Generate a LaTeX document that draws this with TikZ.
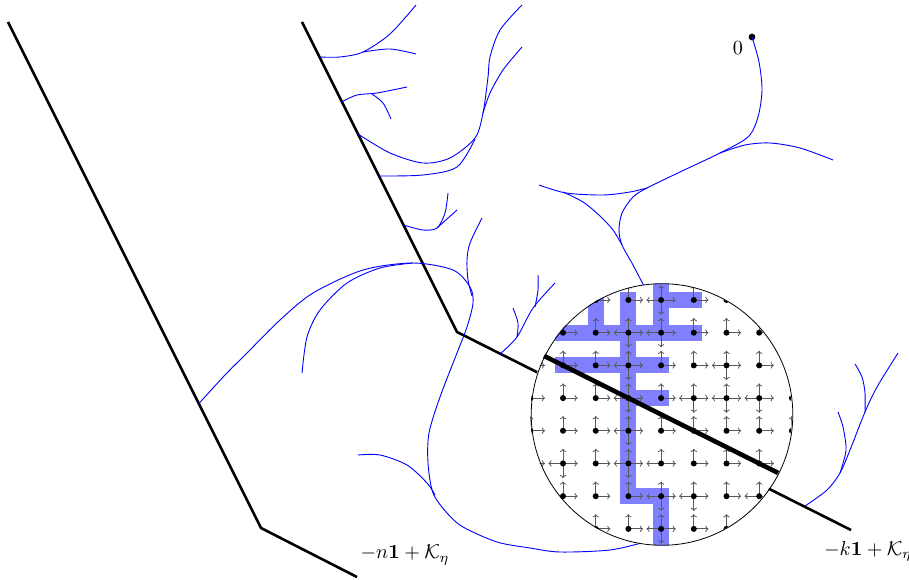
\documentclass[tikz,border=0pt]{standalone}
\usepackage{amsmath,amssymb}
\usepackage{tikz}
\usetikzlibrary{arrows.meta}

\begin{document}
\begin{tikzpicture}[
    x=0.0175cm, y=-0.0175cm,
    cone/.style={line width=1.3pt},
    walk/.style={blue, line width=0.45pt},
    arr/.style={-{To[length=1.6pt,width=3.2pt]}, black!65, line width=0.4pt},
    hl/.style={blue!50, line width=0.28cm, line cap=rect}
]
    \useasboundingbox (0,0) rectangle (909,580);

    \draw[cone] (8,22) -- (261,528) coordinate (vn) -- (357,577);
    \draw[cone] (302,22) -- (457,332) coordinate (vk) -- (851,530);
    \node (ln) at (405,555) {$-n\mathbf{1}+\mathcal{K}_\eta$};
    \node (lk) at (868,551) {$-k\mathbf{1}+\mathcal{K}_\eta$};

    \coordinate (O) at (752,37);
    \fill (O) circle (1.7pt);
    \node (zero) at (738,48) {$0$};

    % paths from the origin
    \draw[walk] plot[smooth] coordinates {(752,37) (759,62) (762,90) (758,117) (748,137) (720,153) (680,172) (647,188) (633,197) (622,213) (619,230) (622,245) (633,265) (646,290)};
    \draw[walk] plot[smooth] coordinates {(720,153) (745,145) (770,143) (800,148) (833,160)};
    \draw[walk] plot[smooth] coordinates {(539,185) (566,193) (603,195) (630,192) (647,188)};
    \draw[walk] plot[smooth] coordinates {(563,192) (583,202) (600,216) (613,230) (622,245)};

    \draw[walk] plot[smooth] coordinates {(319.5,57) (340,57) (363,52) (390,34) (416,5)};
    \draw[walk] plot[smooth] coordinates {(363,52) (390,49) (416,54)};
    \draw[walk] plot[smooth] coordinates {(342,101.7) (357,95) (377,93) (407,87)};
    \draw[walk] plot[smooth] coordinates {(372,94) (383,103) (391,119)};
    \draw[walk] plot[smooth] coordinates {(358,134) (390,153) (423,163) (450,158) (475,138) (483,113) (488,77) (490,57) (500,30) (522,5)};
    \draw[walk] plot[smooth] coordinates {(379,176) (423,175) (457,167) (475,139)};
    \draw[walk] plot[smooth] coordinates {(522,47) (503,70) (490,93) (483,113)};
    \draw[walk] plot[smooth] coordinates {(403.5,225) (423,230) (437,228) (445,213) (448,193)};
    \draw[walk] plot[smooth] coordinates {(437,228) (447,219) (457,210)};

    \draw[walk] plot[smooth] coordinates {(198.5,404) (225,375) (247,353) (280,320) (313,293) (363,270) (413,263) (453,270) (470,287) (473,303) (467,327) (457,353) (440,397) (429,433) (428,463) (433,493) (447,513) (463,527) (497,542) (530,548) (560,552) (610,550) (645,542)};
    \draw[walk] plot[smooth] coordinates {(302,373) (307,337) (320,310) (347,283) (380,268) (413,263)};
    \draw[walk] plot[smooth] coordinates {(482,218) (470,243) (467,260) (468,280) (472,296)};
    \draw[walk] plot[smooth] coordinates {(358,455) (380,455) (407,465) (427,483) (435,495)};
    \draw[walk] plot[smooth] coordinates {(500,354) (517,337) (533,308) (555,283)};
    \draw[walk] plot[smooth] coordinates {(517,337) (518,323) (513,308)};
    \draw[walk] plot[smooth] coordinates {(535,307) (538,290) (538,275)};
    \draw[walk] plot[smooth] coordinates {(805,506) (827,490) (840,473) (850,450) (865,412) (877,387) (898,353)};
    \draw[walk] plot[smooth] coordinates {(840,473) (846,450) (843,427) (838,412)};
    \draw[walk] plot[smooth] coordinates {(865,412) (865,393) (862,377) (855,364)};

    % magnified window
    \begin{scope}[shift={(563,300)}, x=0.57225cm, y=-0.57225cm]
        \fill[white] (3,3.5) circle (2.289cm);
        \clip (3,3.5) circle (2.289cm);
        \draw[hl] (2,0) -- (2,6) -- (3,6) -- (3,8);
        \draw[hl] (1,-1) -- (1,1);
        \draw[hl] (0,1) -- (4,1);
        \draw[hl] (3,-1) -- (3,1);
        \draw[hl] (3,0) -- (4,0);
        \draw[hl] (0,2) -- (3,2);
        \draw[hl] (2,3) -- (3,3);
        \foreach \c in {-1,...,7}
            \foreach \r in {-1,...,8} {
                \draw[arr] (\c,\r) -- ++(0.45,0);
                \draw[arr] (\c,\r) -- ++(0,-0.45);
            }
        \foreach \c/\r in {3/0,2/1,3/1,2/2,5/2,2/3,4/3,5/3,6/3,2/4,0/5,2/5,3/5,3/6,4/6,6/6,3/7}
            \draw[arr] (\c,\r) -- ++(-0.45,0);
        \foreach \c/\r in {3/0,2/1,3/1,2/2,5/2,2/3,4/3,5/3,6/3,2/4,0/5,2/5,3/6,4/6,3/7}
            \draw[arr] (\c,\r) -- ++(0,0.45);
        \foreach \c in {-1,...,7}
            \foreach \r in {-1,...,8}
                \fill (\c,\r) circle (1.5pt);
        \draw[line width=2.3pt] (-2,1) -- (8,6);
    \end{scope}
    \draw[line width=0.4pt] (662,414.5) circle (2.289cm);
\end{tikzpicture}
\end{document}
